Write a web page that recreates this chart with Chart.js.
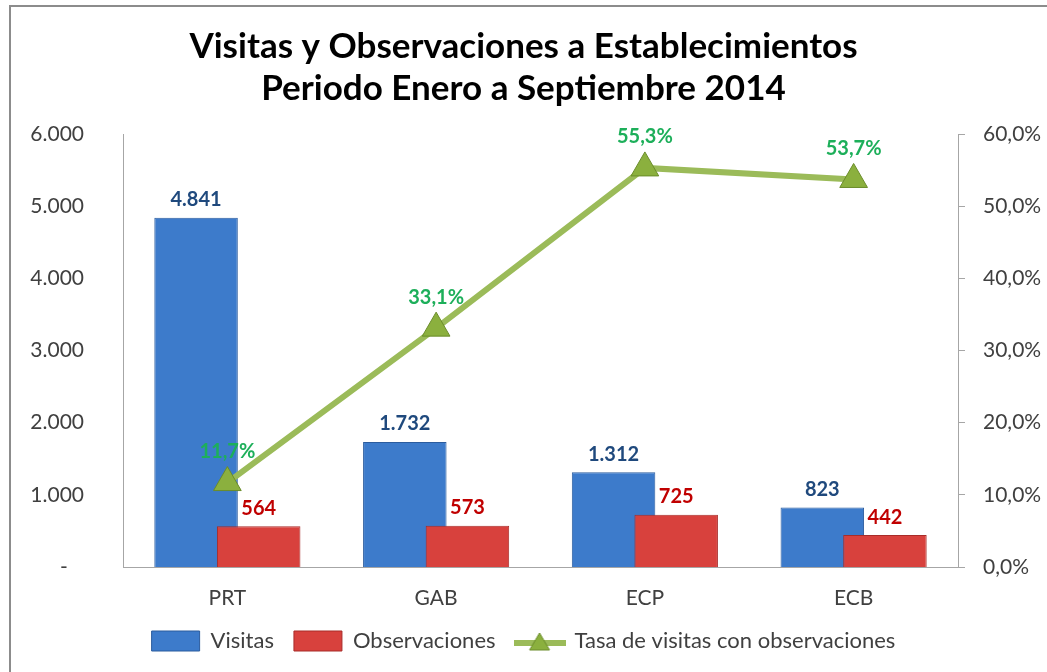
<!DOCTYPE html>
<html>
<head>
<meta charset="utf-8">
<script src="https://cdn.jsdelivr.net/npm/chart.js@4/dist/chart.umd.min.js"></script>
<style>
  html, body { margin: 0; padding: 0; background: #fff; overflow: hidden; }
  #wrap { width: 1047px; height: 672px; position: relative; }
</style>
</head>
<body>
<div id="wrap"><canvas id="grafica" width="1047" height="672"></canvas></div>
<script>
// Datos
const categorias = ["PRT", "GAB", "ECP", "ECB"];
const visitas = [4841, 1732, 1312, 823];
const observaciones = [564, 573, 725, 442];
const tasa = [11.7, 33.1, 55.3, 53.7];

const FUENTE = "Lato, 'Liberation Sans', sans-serif";

const colores = {
  visitas: "#3D7BCB",
  visitasBorde: "#2B5C9E",
  obs: "#D8413D",
  obsBorde: "#A82C29",
  linea: "#9BBB59",
  punto: "#8BB03E",
  puntoBorde: "#6A8C2A",
  etqVisitas: "#1F497D",
  etqObs: "#C00000",
  etqTasa: "#1DAF5A",
  eje: "#A6A6A6",
  texto: "#404040"
};

const miles = v => v === 0 ? "-   " : String(v).replace(/\B(?=(\d{3})+(?!\d))/g, ".");
const pct = v => v.toFixed(1).replace(".", ",") + "%";

// icono de leyenda para la linea
const iconoLinea = document.createElement("canvas");
iconoLinea.width = 52; iconoLinea.height = 22;
(() => {
  const c = iconoLinea.getContext("2d");
  c.strokeStyle = colores.linea; c.lineWidth = 6;
  c.beginPath(); c.moveTo(0, 13); c.lineTo(52, 13); c.stroke();
  c.fillStyle = colores.punto; c.strokeStyle = colores.puntoBorde; c.lineWidth = 1;
  c.beginPath(); c.moveTo(26, 3); c.lineTo(36, 20); c.lineTo(16, 20); c.closePath();
  c.fill(); c.stroke();
})();

// barras superpuestas, desplazadas desde el centro de la categoria
const desplazarBarras = {
  id: "desplazarBarras",
  afterDatasetsUpdate(chart) {
    const x = chart.scales.x;
    const ancho = (x.right - x.left) / categorias.length;
    [[0, -0.15], [1, 0.15]].forEach(([idx, f]) => {
      chart.getDatasetMeta(idx).data.forEach((el, i) => {
        el.x = x.getPixelForValue(i) + f * ancho;
      });
    });
  }
};

const etiquetas = {
  id: "etiquetas",
  afterDatasetsDraw(chart) {
    const ctx = chart.ctx;
    ctx.save();
    ctx.textAlign = "center";
    ctx.textBaseline = "bottom";
    ctx.font = "bold 20px " + FUENTE;
    chart.getDatasetMeta(0).data.forEach((el, i) => {
      ctx.fillStyle = colores.etqVisitas;
      ctx.fillText(miles(visitas[i]), el.x, el.y - 8);
    });
    chart.getDatasetMeta(1).data.forEach((el, i) => {
      ctx.fillStyle = colores.etqObs;
      ctx.fillText(miles(observaciones[i]), el.x, el.y - 8);
    });
    chart.getDatasetMeta(2).data.forEach((el, i) => {
      ctx.fillStyle = colores.etqTasa;
      ctx.fillText(pct(tasa[i]), el.x, el.y - 21);
    });
    ctx.restore();
  }
};

const marco = {
  id: "marco",
  beforeDraw(chart) {
    const ctx = chart.ctx;
    ctx.save();
    ctx.strokeStyle = "#8C8C8C";
    ctx.lineWidth = 2;
    ctx.strokeRect(10, 6, 1200, 900);
    ctx.restore();
  }
};

new Chart(document.getElementById("grafica"), {
  type: "bar",
  data: {
    labels: categorias,
    datasets: [
      {
        label: "Visitas",
        data: visitas,
        backgroundColor: colores.visitas,
        borderColor: colores.visitasBorde,
        borderWidth: 1,
        grouped: false,
        categoryPercentage: 0.4,
        barPercentage: 1,
        yAxisID: "y",
        order: 2
      },
      {
        label: "Observaciones",
        data: observaciones,
        backgroundColor: colores.obs,
        borderColor: colores.obsBorde,
        borderWidth: 1,
        grouped: false,
        categoryPercentage: 0.4,
        barPercentage: 1,
        yAxisID: "y",
        order: 1
      },
      {
        type: "line",
        label: "Tasa de visitas con observaciones",
        data: tasa,
        borderColor: colores.linea,
        borderWidth: 6,
        pointStyle: "triangle",
        pointRadius: 16,
        pointBackgroundColor: colores.punto,
        pointBorderColor: colores.puntoBorde,
        pointBorderWidth: 1,
        yAxisID: "y1",
        order: 0
      }
    ]
  },
  options: {
    responsive: false,
    animation: false,
    layout: { padding: { left: 0, right: 0, top: 0, bottom: 10 } },
    plugins: {
      title: {
        display: true,
        text: ["Visitas y Observaciones a Establecimientos", "Periodo Enero a Septiembre 2014"],
        color: "#000",
        font: { family: FUENTE, size: 35, weight: "bold" },
        lineHeight: 1.14,
        padding: { top: 26, bottom: 24 }
      },
      legend: {
        position: "bottom",
        labels: {
          color: colores.texto,
          font: { family: FUENTE, size: 22 },
          usePointStyle: true,
          pointStyleWidth: 48,
          boxHeight: 20,
          padding: 20,
          generateLabels(chart) {
            const items = Chart.defaults.plugins.legend.labels.generateLabels(chart);
            items.forEach(it => {
              it.pointStyle = it.datasetIndex === 2 ? iconoLinea : "rect";
            });
            return items.sort((a, b) => a.datasetIndex - b.datasetIndex);
          }
        }
      },
      tooltip: { enabled: false }
    },
    scales: {
      x: {
        grid: { display: false },
        border: { display: true, color: colores.eje, width: 1 },
        ticks: { color: colores.texto, font: { family: FUENTE, size: 21 }, padding: 11 },
        afterFit(scale) { scale.height = 43; }
      },
      y: {
        position: "left",
        min: 0,
        max: 6000,
        grid: { display: false },
        border: { display: true, color: colores.eje, width: 1 },
        ticks: {
          stepSize: 1000,
          color: colores.texto,
          font: { family: FUENTE, size: 21 },
          padding: 31,
          callback: v => miles(v)
        },
        afterFit(scale) { scale.width = 123; }
      },
      y1: {
        position: "right",
        min: 0,
        max: 60,
        grid: { display: true, drawOnChartArea: false, color: colores.eje, tickLength: 7 },
        border: { display: true, color: colores.eje, width: 1 },
        ticks: {
          stepSize: 10,
          color: colores.texto,
          font: { family: FUENTE, size: 21 },
          padding: 18,
          callback: v => pct(v)
        },
        afterFit(scale) { scale.width = 89; }
      }
    }
  },
  plugins: [marco, desplazarBarras, etiquetas]
});
</script>
</body>
</html>
